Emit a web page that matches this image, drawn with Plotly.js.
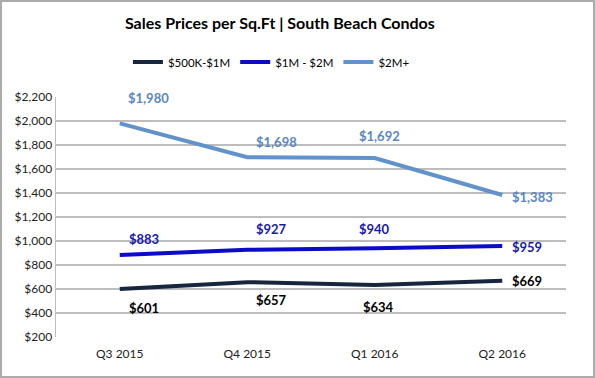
<!DOCTYPE html>
<html>
<head>
<meta charset="utf-8">
<script src="https://cdn.plot.ly/plotly-3.0.1.min.js"></script>
<style>
  html, body { margin: 0; padding: 0; background: #fff; }
  #wrap { position: relative; width: 595px; height: 378px; }
  #chart { width: 595px; height: 378px; }
  #frame { position: absolute; left: 0; top: 0; width: 595px; height: 378px; box-sizing: border-box; border: 2px solid #ababab; pointer-events: none; }
</style>
</head>
<body>
<div id="wrap"><div id="chart"></div><div id="frame"></div></div>
<script>
// ---- data ----
const quarters = ["Q3 2015", "Q4 2015", "Q1 2016", "Q2 2016"];
const seriesNames = ["$500K-$1M", "$1M - $2M", "$2M+"];
const s500k = [601, 657, 634, 669];
const s1m = [883, 927, 940, 959];
const s2m = [1980, 1698, 1692, 1383];
const yTickVals = [200, 400, 600, 800, 1000, 1200, 1400, 1600, 1800, 2000, 2200];

// ---- styles ----
const lineColors = ["#17263d", "#0c0cc8", "#6292cc"];
const labelColors = ["#000000", "#1a1aa8", "#5a86bf"];
const FONT = "Lato, 'Open Sans', sans-serif";

// label offsets in pixels [xshift, yshift, xanchor]
const labelOffsets = [
  [[24, -19, "center"], [24, -18, "center"], [4, -22, "center"], [8, 0, "left"]],
  [[24, 16, "center"], [24, 21, "center"], [0, 19, "center"], [8, -1, "left"]],
  [[29, 25, "center"], [29, 15, "center"], [5, 22, "center"], [8, -2, "left"]]
];

const allSeries = [s500k, s1m, s2m];
const traces = allSeries.map((vals, i) => ({
  type: "scatter",
  mode: "lines",
  x: quarters,
  y: vals,
  name: seriesNames[i],
  line: { color: lineColors[i], width: 4 },
  hoverinfo: "skip"
}));

const fmt = v => "$" + v.toLocaleString("en-US");
const annotations = [];
allSeries.forEach((vals, i) => {
  vals.forEach((v, j) => {
    const o = labelOffsets[i][j];
    annotations.push({
      x: quarters[j], y: v, xref: "x", yref: "y",
      text: "<b>" + fmt(v) + "</b>",
      showarrow: false,
      xshift: o[0], yshift: o[1], xanchor: o[2], yanchor: "middle",
      font: { family: FONT, size: 13, color: labelColors[i] }
    });
  });
});

const layout = {
  width: 595, height: 378,
  margin: { l: 56, r: 29, t: 97, b: 41 },
  paper_bgcolor: "#ffffff", plot_bgcolor: "#ffffff",
  title: {
    text: "<b>Sales Prices per Sq.Ft | South Beach Condos</b>",
    font: { family: FONT, size: 16, color: "#000" },
    x: 0.439, xanchor: "center", xref: "paper",
    y: 1 - 23 / 378, yanchor: "middle", yref: "container"
  },
  showlegend: true,
  legend: {
    orientation: "h",
    x: 0.215, xanchor: "left", xref: "container",
    y: 1 - 62 / 378, yanchor: "middle", yref: "container",
    font: { family: FONT, size: 11.5, color: "#000" },
    itemwidth: 30, tracegroupgap: 0
  },
  xaxis: {
    type: "category",
    range: [-0.5, 3.5],
    showgrid: false, zeroline: false,
    showline: false,
    ticks: "",
    ticklabelstandoff: 8,
    tickfont: { family: FONT, size: 12, color: "#222" },
    fixedrange: true
  },
  yaxis: {
    range: [200, 2200],
    tickvals: yTickVals,
    ticktext: yTickVals.map(fmt),
    showgrid: true, gridcolor: "#bdbdbd", gridwidth: 1.5,
    zeroline: false,
    showline: true, linecolor: "#bdbdbd", linewidth: 1.5,
    ticks: "", ticklen: 0,
    tickfont: { family: FONT, size: 12, color: "#222" },
    fixedrange: true
  },
  annotations: annotations
};

Plotly.newPlot("chart", traces, layout, { displayModeBar: false, staticPlot: true });
</script>
</body>
</html>
